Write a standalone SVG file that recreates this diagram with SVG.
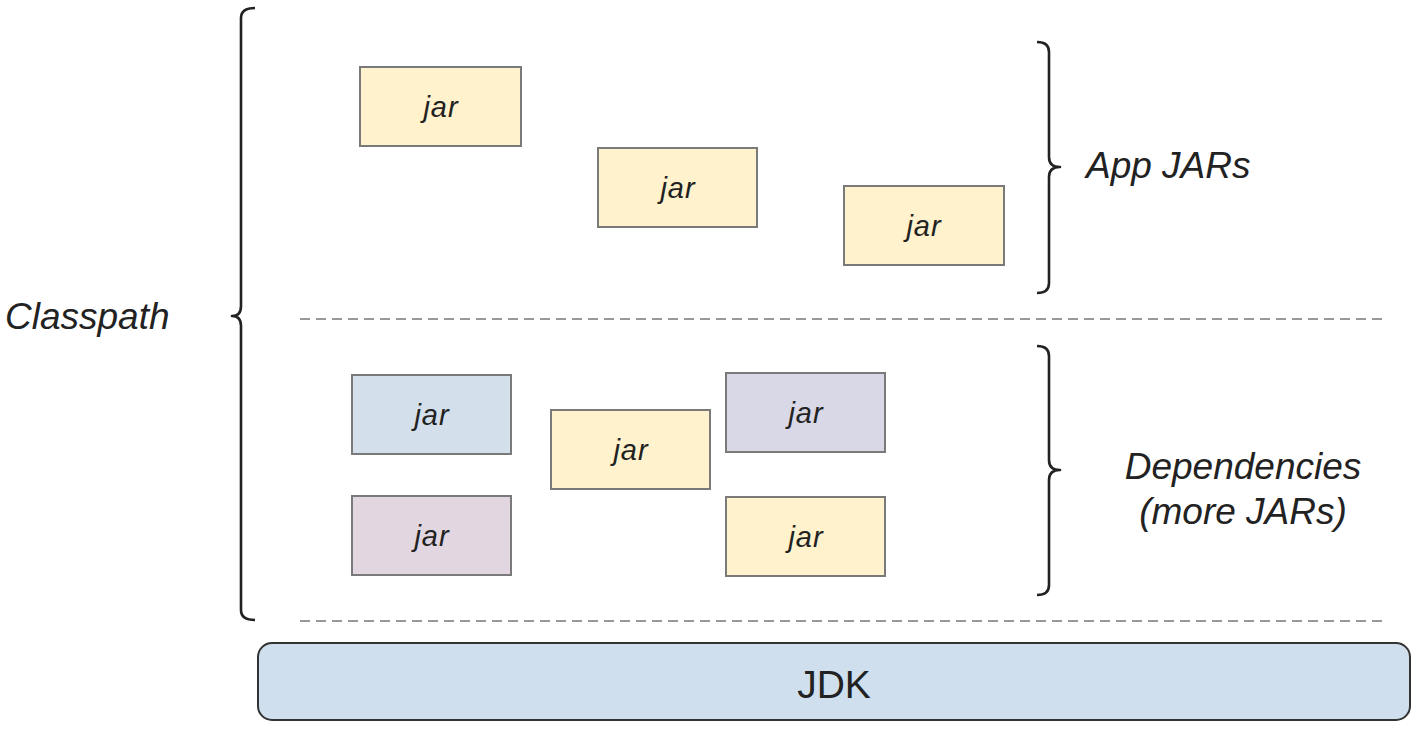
<svg xmlns="http://www.w3.org/2000/svg" width="1420" height="729" viewBox="0 0 1420 729">
<style>
.jar{stroke:#7a7a7a;stroke-width:2}
.y{fill:#fff2cc}.b{fill:#d3e0ec}.l{fill:#d9d8e6}.p{fill:#e2d7e1}
.jt{font-family:"Liberation Sans",Arial,sans-serif;font-style:italic;font-size:29px;fill:#222;text-anchor:middle;letter-spacing:1px}
.lab{font-family:"Liberation Sans",Arial,sans-serif;font-style:italic;font-size:37px;fill:#222}
.br{fill:none;stroke:#222;stroke-width:2.6;stroke-linejoin:round}
.dash{stroke:#999;stroke-width:2;stroke-dasharray:10 6}
</style>
<rect width="1420" height="729" fill="#fff"/>
<g id="braces">
<path class="br" d="M255,8 Q241,8 241,18 L241,306 Q241,316 232,316 Q241,316 241,326 L241,610 Q241,620 255,620"/>
<path class="br" d="M1037,42 Q1049,42 1049,52 L1049,157 Q1049,167 1060,167 Q1049,167 1049,177 L1049,283 Q1049,293 1037,293"/>
<path class="br" d="M1037,346 Q1049,346 1049,356 L1049,460 Q1049,470 1060,470 Q1049,470 1049,480 L1049,585 Q1049,595 1037,595"/>
</g>
<g id="separators">
<line class="dash" x1="300" y1="319" x2="1384" y2="319"/>
<line class="dash" x1="300" y1="621" x2="1384" y2="621"/>
</g>
<g id="jar1"><rect class="jar y" x="360" y="67" width="161" height="79"/><text class="jt" x="441" y="117">jar</text></g>
<g id="jar2"><rect class="jar y" x="598" y="148" width="159" height="79"/><text class="jt" x="678" y="198">jar</text></g>
<g id="jar3"><rect class="jar y" x="844" y="186" width="160" height="79"/><text class="jt" x="924" y="236">jar</text></g>
<g id="jar4"><rect class="jar b" x="352" y="375" width="159" height="79"/><text class="jt" x="432" y="425">jar</text></g>
<g id="jar5"><rect class="jar y" x="551" y="410" width="159" height="79"/><text class="jt" x="631" y="460">jar</text></g>
<g id="jar6"><rect class="jar l" x="726" y="373" width="159" height="79"/><text class="jt" x="806" y="423">jar</text></g>
<g id="jar7"><rect class="jar p" x="352" y="496" width="159" height="79"/><text class="jt" x="432" y="546">jar</text></g>
<g id="jar8"><rect class="jar y" x="726" y="497" width="159" height="79"/><text class="jt" x="806" y="547">jar</text></g>
<g id="jdk"><rect x="258" y="643" width="1152" height="77" rx="14" fill="#cfdfee" stroke="#333" stroke-width="2"/><text x="834" y="698" font-family="'Liberation Sans',Arial,sans-serif" font-size="39" fill="#222" text-anchor="middle">JDK</text></g>
<g id="labels">
<text class="lab" x="5" y="329">Classpath</text>
<text class="lab" x="1086" y="178">App JARs</text>
<text class="lab" x="1243" y="479" text-anchor="middle">Dependencies</text>
<text class="lab" x="1243" y="524" text-anchor="middle">(more JARs)</text>
</g>
</svg>
